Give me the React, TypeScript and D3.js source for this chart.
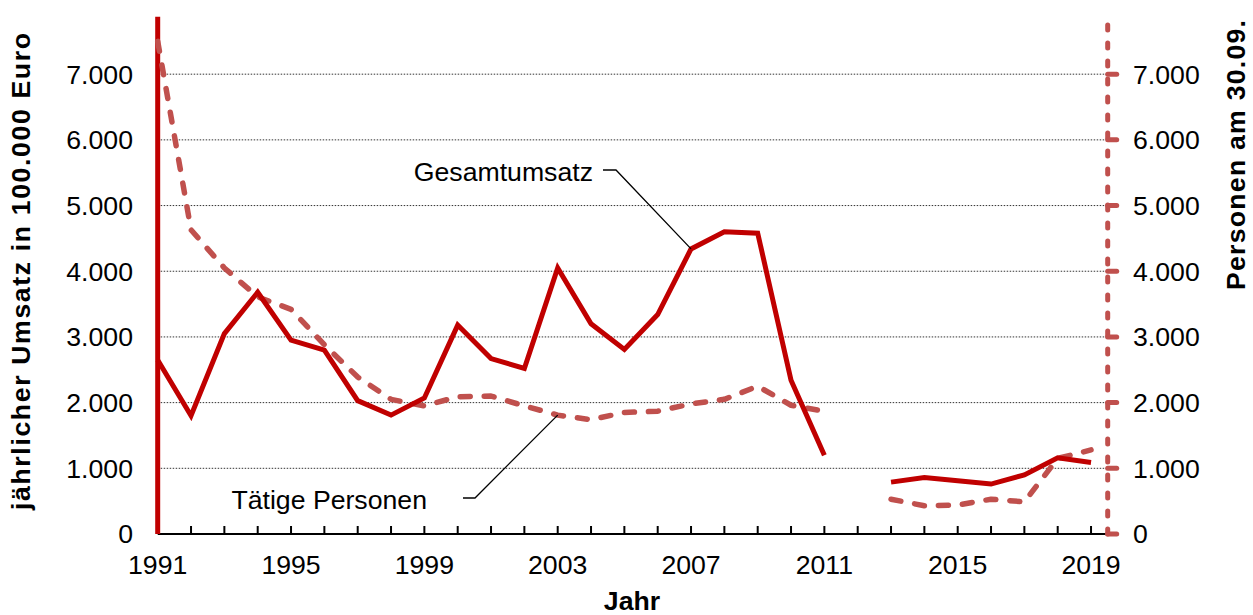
import React from 'react';
import * as d3 from 'd3';

// Jahre 1991-2019, 2012 ohne Werte
const years = d3.range(1991, 2020);
const umsatz: (number | null)[] = [
  2650, 1800, 3050, 3680, 2950, 2800, 2030, 1810, 2070, 3180,
  2670, 2520, 4050, 3200, 2810, 3340, 4340, 4600, 4580, 2340,
  1200, null, 790, 860, 810, 760, 900, 1160, 1090,
];
const personen: (number | null)[] = [
  7500, 4630, 4050, 3610, 3420, 2880, 2390, 2050, 1950, 2090,
  2100, 1950, 1810, 1740, 1850, 1870, 1980, 2050, 2250, 1960,
  1870, null, 530, 430, 440, 530, 490, 1150, 1280,
];
const yTicks = [0, 1000, 2000, 3000, 4000, 5000, 6000, 7000];
const xLabels = [1991, 1995, 1999, 2003, 2007, 2011, 2015, 2019];

const W = 1253;
const H = 615;
const FONT = 'Liberation Sans, Arial, sans-serif';
const RED = '#c00000';
const RED2 = '#c0504d';

const fmt = (v: number) => d3.format(',')(v).replace(/,/g, '.');

export default function App() {
  const x = d3.scaleLinear().domain([1991, 2019.5]).range([157.7, 1107.7]);
  const y = d3.scaleLinear().domain([0, 7875]).range([534, 16.7]);
  const yR = d3.scaleLinear().domain([0, 7875]).range([534, 16.7]);

  const lineL = d3
    .line<number | null>()
    .defined(d => d !== null)
    .x((_, i) => x(years[i]))
    .y(d => y(d as number));
  const lineR = d3
    .line<number | null>()
    .defined(d => d !== null)
    .x((_, i) => x(years[i]))
    .y(d => yR(d as number));

  const [x0, x1] = x.range();
  const [yBottom, yTop] = y.range();

  // Anschlusspunkte der Beschriftungen
  const gIdx = years.indexOf(2007);
  const pIdx = years.indexOf(2003);
  const gx = x(2007);
  const gy = y(umsatz[gIdx] as number);
  const px = x(2003);
  const py = yR(personen[pIdx] as number);

  return (
    <svg
      width={W}
      height={H}
      style={{ position: 'absolute', left: 0, top: 0, background: '#fff' }}
      fontFamily={FONT}
    >
      {/* Gitterlinien */}
      {yTicks.filter(t => t > 0).map(t => (
        <line
          key={t}
          x1={x0}
          x2={x1}
          y1={y(t)}
          y2={y(t)}
          stroke="#333"
          strokeWidth={1}
          strokeDasharray="1.5 1.5"
        />
      ))}

      {/* x-Achse */}
      <line x1={x0} x2={x1} y1={yBottom} y2={yBottom} stroke="#000" strokeWidth={2} />
      {years.map(yr => (
        <line key={yr} x1={x(yr)} x2={x(yr)} y1={yBottom} y2={yBottom - 8} stroke="#000" strokeWidth={2} />
      ))}
      {xLabels.map(yr => (
        <text key={yr} x={x(yr)} y={574} textAnchor="middle" fontSize={26.67} fill="#000">
          {yr}
        </text>
      ))}

      {/* linke Achse */}
      <line x1={x0} x2={x0} y1={yBottom} y2={yTop} stroke={RED} strokeWidth={5} />
      {yTicks.map(t => (
        <text key={t} x={133} y={y(t)} dy="0.35em" textAnchor="end" fontSize={26.67} fill="#000">
          {fmt(t)}
        </text>
      ))}

      {/* rechte Achse */}
      <line
        x1={x1}
        x2={x1}
        y1={yBottom}
        y2={yTop}
        stroke={RED2}
        strokeWidth={5}
        strokeDasharray="5 13"
        strokeLinecap="round"
      />
      {yTicks.map(t => (
        <g key={t}>
          <line x1={x1} x2={x1 + 9} y1={yR(t)} y2={yR(t)} stroke={RED2} strokeWidth={5} strokeLinecap="round" />
          <text x={1133} y={yR(t)} dy="0.35em" textAnchor="start" fontSize={26.67} fill="#000">
            {fmt(t)}
          </text>
        </g>
      ))}

      {/* Reihen */}
      <path
        d={lineR(personen) || ''}
        fill="none"
        stroke={RED2}
        strokeWidth={5.5}
        strokeDasharray="10 14"
        strokeLinecap="round"
        strokeLinejoin="round"
      />
      <path d={lineL(umsatz) || ''} fill="none" stroke={RED} strokeWidth={5} strokeLinejoin="miter" />

      {/* Beschriftungen */}
      <text x={593} y={181} textAnchor="end" fontSize={26.67} fill="#000">
        Gesamtumsatz
      </text>
      <polyline points={`603,170 616,170 ${gx},${gy}`} fill="none" stroke="#000" strokeWidth={1.3} />
      <text x={427} y={509} textAnchor="end" fontSize={26.67} fill="#000">
        Tätige Personen
      </text>
      <polyline points={`463,498 475,498 ${px},${py}`} fill="none" stroke="#000" strokeWidth={1.3} />

      {/* Achsentitel */}
      <text x={632} y={610} textAnchor="middle" fontSize={26.67} fontWeight="bold" fill="#000">
        Jahr
      </text>
      <text
        transform={`translate(30,272) rotate(-90)`}
        x={-238}
        textLength={477}
        lengthAdjust="spacing"
        fontSize={26.67}
        fontWeight="bold"
        fill="#000"
      >
        jährlicher Umsatz in 100.000 Euro
      </text>
      <text
        transform={`translate(1245,155) rotate(-90)`}
        x={-135}
        textLength={270}
        lengthAdjust="spacing"
        fontSize={26.67}
        fontWeight="bold"
        fill="#000"
      >
        Personen am 30.09.
      </text>
    </svg>
  );
}
